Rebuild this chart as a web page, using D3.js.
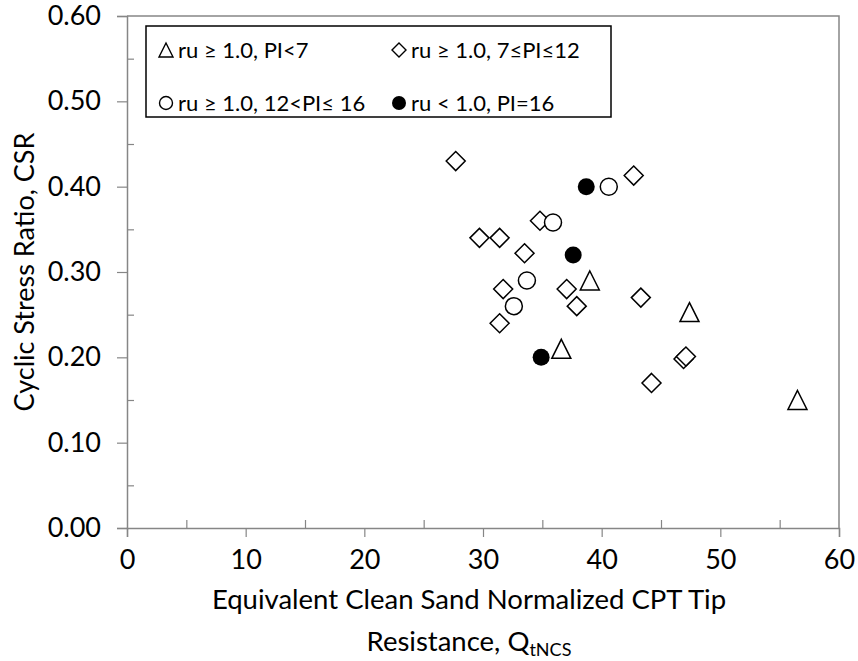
<!DOCTYPE html>
<html>
<head>
<meta charset="utf-8">
<script src="https://cdn.jsdelivr.net/npm/d3@7"></script>
<style>
body{margin:0;background:#fff;}
text{font-family:Lato,"Open Sans",sans-serif;fill:#000;}
</style>
</head>
<body>
<div class="chart"></div>
<script>
// data: [QtNCS, CSR]
var triPts = [[36.6,0.21],[39.0,0.29],[47.4,0.253],[56.5,0.15]];
var diaPts = [[27.7,0.43],[29.7,0.34],[31.4,0.34],[34.8,0.36],[33.5,0.322],[31.7,0.28],
              [31.4,0.24],[37.05,0.28],[37.9,0.26],[42.7,0.413],[43.3,0.27],[46.9,0.198],
              [47.1,0.201],[44.2,0.17]];
var circPts = [[35.9,0.358],[40.6,0.40],[33.7,0.29],[32.6,0.26]];
var fillPts = [[38.7,0.40],[37.6,0.32],[34.9,0.20]];
var xTicks = [0,10,20,30,40,50,60];
var yTicks = [0,0.1,0.2,0.3,0.4,0.5,0.6];
var legendLabels = ["ru \u2265 1.0, PI<7","ru \u2265 1.0, 7\u2264PI\u226412",
                    "ru \u2265 1.0, 12<PI\u2264 16","ru < 1.0, PI=16"];

var W = 858, H = 661;
var pLeft = 127, pRight = 839, pTop = 16, pBottom = 528;
var axisCol = "#868686";

var svg = d3.select("div.chart").append("svg")
    .attr("width",W).attr("height",H);

var x = d3.scaleLinear().domain([0,60]).range([pLeft,pRight]);
var y = d3.scaleLinear().domain([0,0.6]).range([pBottom,pTop]);

// plot frame (top + right)
svg.append("path")
    .attr("d","M"+pLeft+","+pTop+"H"+pRight+"V"+pBottom)
    .attr("fill","none").attr("stroke",axisCol).attr("stroke-width",1.5);

// y axis: major ticks outside, minor inside
svg.append("g").attr("transform","translate("+pLeft+",0)")
    .call(d3.axisLeft(y).tickValues(yTicks).tickFormat(d3.format(".2f")).tickSize(10).tickPadding(16));
svg.append("g").attr("transform","translate("+pLeft+",0)")
    .call(d3.axisRight(y).tickValues([0.05,0.15,0.25,0.35,0.45,0.55]).tickFormat("").tickSize(7))
    .select(".domain").remove();

// x axis
svg.append("g").attr("transform","translate(0,"+pBottom+")")
    .call(d3.axisBottom(x).tickValues(xTicks).tickFormat(d3.format("d")).tickSize(9).tickPadding(13));
svg.append("g").attr("transform","translate(0,"+pBottom+")")
    .call(d3.axisTop(x).tickValues([5,15,25,35,45,55]).tickFormat("").tickSize(8))
    .select(".domain").remove();

svg.selectAll(".domain").attr("stroke",axisCol).attr("stroke-width",1.5);
svg.selectAll(".tick line").attr("stroke",axisCol).attr("stroke-width",1.2);
svg.selectAll(".tick text").attr("font-size","27px").attr("font-family","Lato");

// axis titles
svg.append("text")
    .attr("transform","translate(34,272) rotate(-90)")
    .attr("text-anchor","middle")
    .attr("font-size","27px")
    .text("Cyclic Stress Ratio, CSR");
svg.append("text")
    .attr("x",469).attr("y",609)
    .attr("text-anchor","middle")
    .attr("font-size","27.5px")
    .text("Equivalent Clean Sand Normalized CPT Tip");
var t2 = svg.append("text")
    .attr("x",469).attr("y",651)
    .attr("text-anchor","middle")
    .attr("font-size","27.5px");
t2.append("tspan").text("Resistance, Q");
t2.append("tspan").attr("dy",5).attr("font-size","18px").text("tNCS");

// marker shapes
function triPath(s){ return "M0,"+(-s/2)+"L"+(s/2)+","+(s/2)+"L"+(-s/2)+","+(s/2)+"Z"; }
function diaPath(s){ return "M0,"+(-s/2)+"L"+(s/2)+",0L0,"+(s/2)+"L"+(-s/2)+",0Z"; }

var plot = svg.append("g");
plot.selectAll("path.tri").data(triPts).enter().append("path")
    .attr("class","tri")
    .attr("d",triPath(19))
    .attr("transform",function(d){return "translate("+x(d[0])+","+y(d[1])+")";})
    .attr("fill","#fff").attr("stroke","#000").attr("stroke-width",1.5);
plot.selectAll("path.dia").data(diaPts).enter().append("path")
    .attr("class","dia")
    .attr("d",diaPath(19))
    .attr("transform",function(d){return "translate("+x(d[0])+","+y(d[1])+")";})
    .attr("fill","#fff").attr("stroke","#000").attr("stroke-width",1.5);
plot.selectAll("circle.open").data(circPts).enter().append("circle")
    .attr("class","open")
    .attr("cx",function(d){return x(d[0]);})
    .attr("cy",function(d){return y(d[1]);})
    .attr("r",8.5)
    .attr("fill","#fff").attr("stroke","#000").attr("stroke-width",1.5);
plot.selectAll("circle.filled").data(fillPts).enter().append("circle")
    .attr("class","filled")
    .attr("cx",function(d){return x(d[0]);})
    .attr("cy",function(d){return y(d[1]);})
    .attr("r",8.5)
    .attr("fill","#000");

// legend
var lg = svg.append("g");
lg.append("rect")
    .attr("x",146).attr("y",26).attr("width",465).attr("height",91)
    .attr("fill","#fff").attr("stroke","#000").attr("stroke-width",1.5);
var cols = [166,399], rows = [50,103];
lg.append("path").attr("d",triPath(14)).attr("transform","translate("+cols[0]+","+rows[0]+")")
    .attr("fill","none").attr("stroke","#000").attr("stroke-width",1.4);
lg.append("path").attr("d",diaPath(14)).attr("transform","translate("+cols[1]+","+rows[0]+")")
    .attr("fill","none").attr("stroke","#000").attr("stroke-width",1.4);
lg.append("circle").attr("cx",cols[0]).attr("cy",rows[1]).attr("r",6.5)
    .attr("fill","none").attr("stroke","#000").attr("stroke-width",1.4);
lg.append("circle").attr("cx",cols[1]).attr("cy",rows[1]).attr("r",7)
    .attr("fill","#000");
legendLabels.forEach(function(l,i){
    lg.append("text")
        .attr("x",cols[i%2]+12)
        .attr("y",rows[Math.floor(i/2)]+8)
        .attr("font-size","22px")
        .text(l);
});
</script>
</body>
</html>
